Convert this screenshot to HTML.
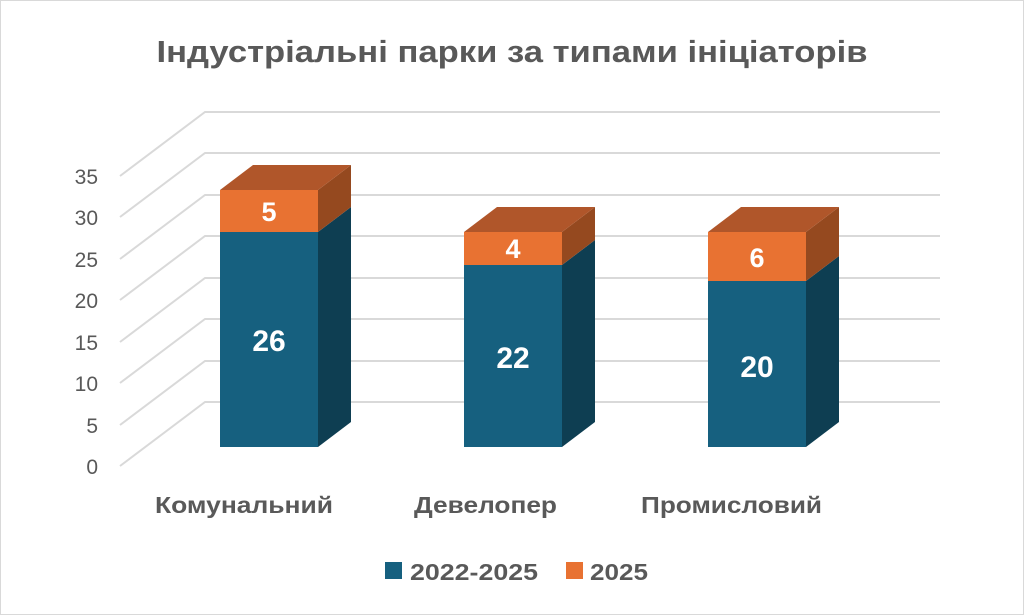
<!DOCTYPE html>
<html><head><meta charset="utf-8"><style>
html,body{margin:0;padding:0;background:#fff}
svg{display:block}
text{font-family:"Liberation Sans","DejaVu Sans",sans-serif;font-weight:bold}
</style></head><body>
<svg width="1024" height="615" viewBox="0 0 1024 615" xmlns="http://www.w3.org/2000/svg">
<rect x="0.5" y="0.5" width="1023" height="614" fill="#fff" stroke="#d9d9d9"/>
<text x="512" y="62" text-anchor="middle" font-size="31" fill="#595959" textLength="711" lengthAdjust="spacingAndGlyphs">Індустріальні парки за типами ініціаторів</text>
<g stroke="#d9d9d9" stroke-width="2" fill="none">
<polyline points="120,466 205,402 940,402"/>
<polyline points="120,425 205,361 940,361"/>
<polyline points="120,383 205,319 940,319"/>
<polyline points="120,342 205,278 940,278"/>
<polyline points="120,300 205,236 940,236"/>
<polyline points="120,259 205,195 940,195"/>
<polyline points="120,217 205,153 940,153"/>
<polyline points="120,176 205,112 940,112"/>
</g>
<g font-size="21" fill="#595959" text-anchor="end">
<text x="98" y="474" style="font-weight:normal">0</text>
<text x="98" y="433" style="font-weight:normal">5</text>
<text x="98" y="391" style="font-weight:normal">10</text>
<text x="98" y="350" style="font-weight:normal">15</text>
<text x="98" y="308" style="font-weight:normal">20</text>
<text x="98" y="267" style="font-weight:normal">25</text>
<text x="98" y="225" style="font-weight:normal">30</text>
<text x="98" y="184" style="font-weight:normal">35</text>
</g>
<g>
<polygon points="318,232 351,207 351,422 318,447" fill="#0E3E52"/>
<polygon points="318,190 351,165 351,207 318,232" fill="#95491F"/>
<polygon points="220,190 253,165 351,165 318,190" fill="#B0562A"/>
<rect x="220" y="232" width="98" height="215" fill="#16607F"/>
<rect x="220" y="190" width="98" height="42" fill="#E87232"/>
<text x="269" y="221" text-anchor="middle" font-size="27" fill="#fff">5</text>
<text x="269" y="351" text-anchor="middle" font-size="30" fill="#fff">26</text>
</g>
<g>
<polygon points="562,265 595,240 595,422 562,447" fill="#0E3E52"/>
<polygon points="562,232 595,207 595,240 562,265" fill="#95491F"/>
<polygon points="464,232 497,207 595,207 562,232" fill="#B0562A"/>
<rect x="464" y="265" width="98" height="182" fill="#16607F"/>
<rect x="464" y="232" width="98" height="33" fill="#E87232"/>
<text x="513" y="258" text-anchor="middle" font-size="27" fill="#fff">4</text>
<text x="513" y="368" text-anchor="middle" font-size="30" fill="#fff">22</text>
</g>
<g>
<polygon points="806,281 839,256 839,422 806,447" fill="#0E3E52"/>
<polygon points="806,232 839,207 839,256 806,281" fill="#95491F"/>
<polygon points="708,232 741,207 839,207 806,232" fill="#B0562A"/>
<rect x="708" y="281" width="98" height="166" fill="#16607F"/>
<rect x="708" y="232" width="98" height="49" fill="#E87232"/>
<text x="757" y="267" text-anchor="middle" font-size="27" fill="#fff">6</text>
<text x="757" y="377" text-anchor="middle" font-size="30" fill="#fff">20</text>
</g>
<g font-size="23" fill="#595959">
<text x="155" y="513" textLength="178" lengthAdjust="spacingAndGlyphs">Комунальний</text>
<text x="414" y="513" textLength="143" lengthAdjust="spacingAndGlyphs">Девелопер</text>
<text x="641" y="513" textLength="181" lengthAdjust="spacingAndGlyphs">Промисловий</text>
</g>
<rect x="385" y="562" width="17" height="17" fill="#16607F"/>
<text x="410" y="580" font-size="23" fill="#595959" textLength="128" lengthAdjust="spacingAndGlyphs">2022-2025</text>
<rect x="566" y="562" width="17" height="17" fill="#E87232"/>
<text x="590" y="580" font-size="23" fill="#595959" textLength="58" lengthAdjust="spacingAndGlyphs">2025</text>
</svg>
</body></html>
